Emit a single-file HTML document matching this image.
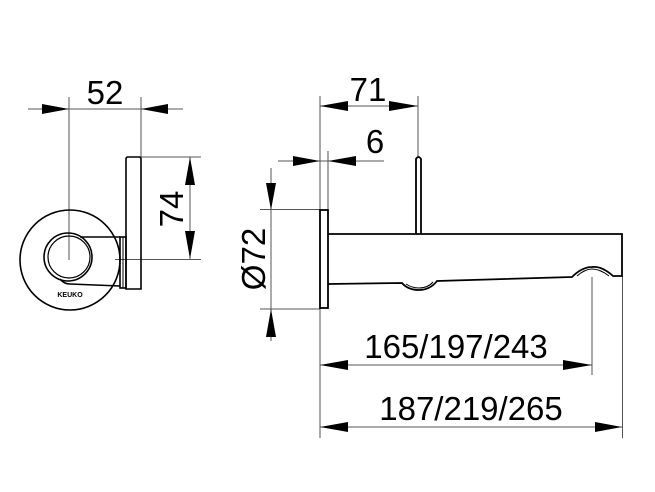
<!DOCTYPE html>
<html><head><meta charset="utf-8"><style>
html,body{margin:0;padding:0;background:#fff;}
svg{display:block;}
text{font-family:"Liberation Sans",Arial,sans-serif;fill:#000;}
</style></head><body>
<svg width="655" height="492" viewBox="0 0 655 492" xmlns="http://www.w3.org/2000/svg">
<g stroke="#555" stroke-width="1" fill="none">
  <!-- left view dims -->
  <line x1="28" y1="109" x2="183" y2="109"/>
  <line x1="69" y1="97" x2="69" y2="260"/>
  <line x1="141" y1="97" x2="141" y2="157"/>
  <line x1="190" y1="157" x2="190" y2="259"/>
  <line x1="141" y1="157" x2="201" y2="157"/>
  <line x1="115" y1="259.5" x2="201" y2="259.5"/>
  <!-- right view dims -->
  <line x1="320" y1="96" x2="320" y2="438"/>
  <line x1="320" y1="106" x2="418" y2="106"/>
  <line x1="418" y1="96" x2="418" y2="157"/>
  <line x1="278" y1="161" x2="384" y2="161"/>
  <line x1="328" y1="151" x2="328" y2="210"/>
  <line x1="271" y1="168" x2="271" y2="341"/>
  <line x1="260" y1="209.5" x2="320" y2="209.5"/>
  <line x1="260" y1="309" x2="320" y2="309"/>
  <line x1="592" y1="277" x2="592" y2="375"/>
  <line x1="622.5" y1="276" x2="622.5" y2="438"/>
  <line x1="320" y1="365" x2="592" y2="365"/>
  <line x1="320" y1="427" x2="622" y2="427"/>
</g>
<g fill="#000" stroke="none">
  <!-- 52 -->
  <polygon points="42,104 69,109 42,114"/>
  <polygon points="168,104 141,109 168,114"/>
  <!-- 74 -->
  <polygon points="185,185 190,157 195,185"/>
  <polygon points="185,231 190,259 195,231"/>
  <!-- 71 -->
  <polygon points="348,101 320,106 348,111"/>
  <polygon points="389,101 418,106 389,111"/>
  <!-- 6 -->
  <polygon points="293,156 320,161 293,166"/>
  <polygon points="356,156 328,161 356,166"/>
  <!-- Ø72 -->
  <polygon points="266,183 271,210 276,183"/>
  <polygon points="266,337 271,309 276,337"/>
  <!-- 165 -->
  <polygon points="348,360 320,365 348,370"/>
  <polygon points="563,360 592,365 563,370"/>
  <!-- 187 -->
  <polygon points="348,422 320,427 348,432"/>
  <polygon points="595,422 622,427 595,432"/>
</g>
<!-- left view outline -->
<g stroke="#000" stroke-width="1.6" fill="none">
  <circle cx="70" cy="260" r="50"/>
  <path d="M126,289 L126,159 Q126,157 128,157 L139,157 Q141,157 141,159 L141,289 Z"/>
  <rect x="120" y="237" width="6" height="51"/>
  <line x1="123" y1="237" x2="123" y2="288" stroke-width="1"/>
  <circle cx="68" cy="257" r="24"/>
  <circle cx="69" cy="257" r="21" stroke-width="1.2"/>
  <path d="M80,237 L120,237"/>
  <path d="M60,279 Q64,284 70,284 L120,286"/>
</g>
<text x="70" y="297" font-size="7" font-weight="bold" text-anchor="middle">KEUKO</text>
<!-- right view outline -->
<g stroke="#000" stroke-width="1.8" fill="none">
  <rect x="320" y="210" width="8" height="98"/>
  <path d="M416,234 L416,159 Q418.5,155 421,159 L421,234"/>
  <path d="M328,234 L622,234 L622,276 L613,276 Q602,266 592,267 Q582,267 572,277 L437,281 Q430,290 419,290 Q408,290 402,283 L328,284"/>
  <path d="M577,276 Q585,269 592,269 Q600,269 609,276" stroke-width="1"/>
  <path d="M406,284 Q412,288 419,288 Q428,288 433,282" stroke-width="1"/>
</g>
<!-- labels -->
<g font-size="33">
  <text x="105" y="104" text-anchor="middle">52</text>
  <text x="368" y="101" text-anchor="middle">71</text>
  <text x="375" y="153" text-anchor="middle">6</text>
  <text transform="translate(183,209) rotate(-90)" text-anchor="middle">74</text>
  <text transform="translate(265,259) rotate(-90)" text-anchor="middle">Ø72</text>
  <text x="456" y="358" text-anchor="middle">165/197/243</text>
  <text x="471" y="420" text-anchor="middle">187/219/265</text>
</g>
</svg>
</body></html>
